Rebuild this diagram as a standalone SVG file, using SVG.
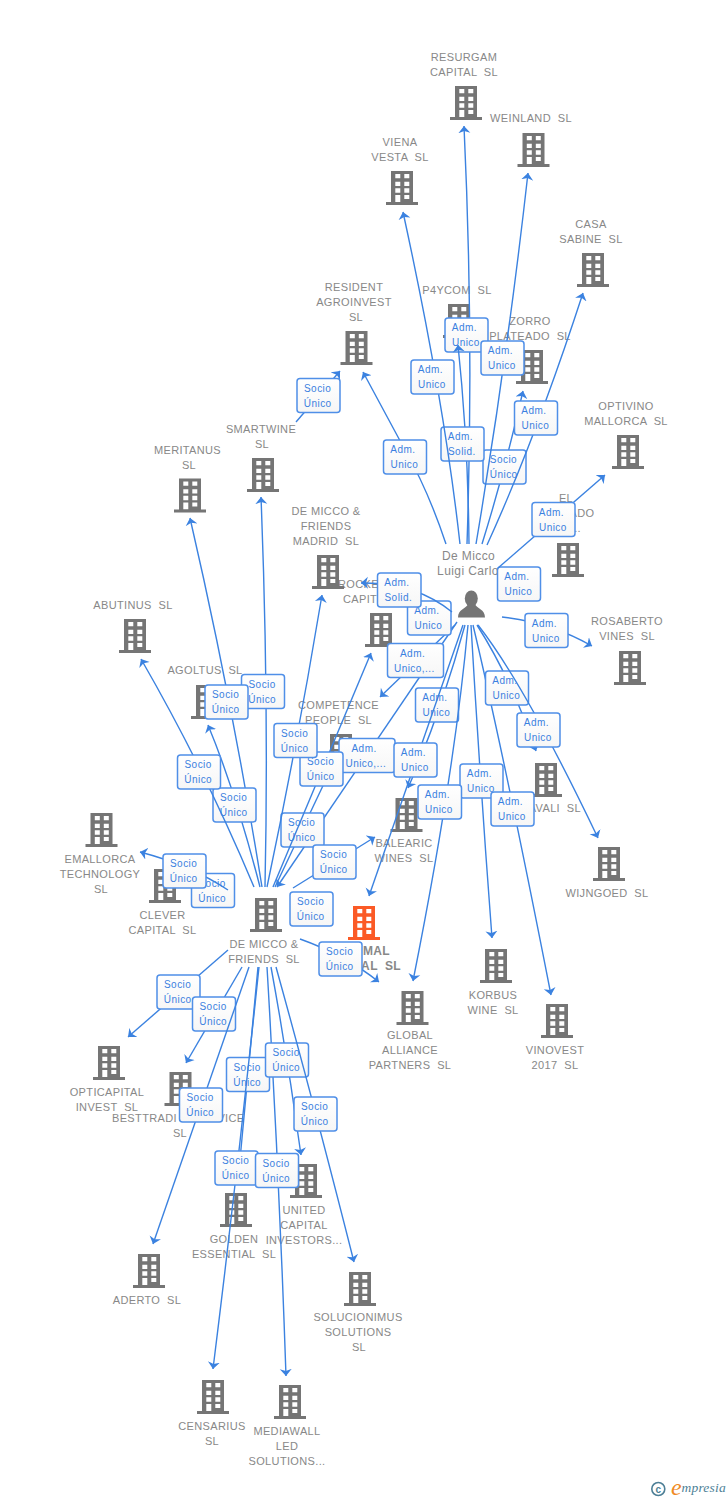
<svg xmlns="http://www.w3.org/2000/svg" width="728" height="1500" viewBox="0 0 728 1500" xml:space="preserve">
<style>
text{font-family:"Liberation Sans",Arial,sans-serif;white-space:pre}
.n{font-size:11px;fill:#888888;text-anchor:middle;letter-spacing:.35px}
.e{text-anchor:end}
.s{text-anchor:start}
.p{font-size:12px;letter-spacing:.4px}
.o{font-weight:bold;font-size:12px}
.bg{fill:#757575}
.or{fill:#fb5a26}
.ln{fill:none;stroke:#3b82e0;stroke-width:1.4;marker-end:url(#arr)}
.box{fill:url(#bf);stroke:#4f8fe8;stroke-width:1.5}
.t{font-size:10px;fill:#3b80e0;letter-spacing:.45px;transform:translate(-.5px,-.5px)}
</style>
<defs>
<linearGradient id="bf" x1="0" y1="0" x2="0" y2="1"><stop offset="0" stop-color="#ffffff"/><stop offset="1" stop-color="#f6f6f6"/></linearGradient>
<marker id="arr" markerUnits="userSpaceOnUse" markerWidth="9" markerHeight="13" refX="7" refY="6.5" orient="auto"><path d="M7,6.5 L0,0.5 L2,6.5 L0,12.5 Z" fill="#3b82e0"/></marker>
<g id="bld">
<path fill-rule="evenodd" d="M-11,0H11V32H-11Z M-6.7,3V7.3H-1.7V3Z M2.3,3V7.3H7.3V3Z M-6.7,10.7V15H-1.7V10.7Z M2.3,10.7V15H7.3V10.7Z M-6.7,17.3V21.7H-1.7V17.3Z M2.3,17.3V21.7H7.3V17.3Z M-6.7,24V31H-1.7V24Z M2.3,24V28H7.3V24Z"/>
<rect x="-16" y="31" width="32" height="3"/>
</g>
</defs>
<rect width="728" height="1500" fill="#ffffff"/>

<g id="nodes">
<g id="n-resurgam"><text class="n" x="464" y="61">RESURGAM</text><text class="n" x="464" y="76">CAPITAL  SL</text><use href="#bld" class="bg" x="466" y="86"/></g>
<g id="n-weinland"><text class="n" x="531" y="122">WEINLAND  SL</text><use href="#bld" class="bg" x="533.5" y="133"/></g>
<g id="n-viena"><text class="n" x="400" y="146">VIENA</text><text class="n" x="400" y="161">VESTA  SL</text><use href="#bld" class="bg" x="402" y="171"/></g>
<g id="n-casa"><text class="n" x="591" y="228">CASA</text><text class="n" x="591" y="243">SABINE  SL</text><use href="#bld" class="bg" x="593" y="253"/></g>
<g id="n-p4ycom"><text class="n" x="457" y="294">P4YCOM  SL</text><use href="#bld" class="bg" x="459" y="304"/></g>
<g id="n-zorro"><text class="n" x="530" y="325">ZORRO</text><text class="n" x="530" y="340">PLATEADO  SL</text><use href="#bld" class="bg" x="532" y="350"/></g>
<g id="n-optivino"><text class="n" x="626" y="410">OPTIVINO</text><text class="n" x="626" y="425">MALLORCA  SL</text><use href="#bld" class="bg" x="628" y="435"/></g>
<g id="n-el"><text class="n" x="566" y="502">EL</text><text class="n e" x="594.5" y="517">ADO</text><text class="n e" x="581" y="532">...</text><use href="#bld" class="bg" x="568" y="543"/></g>
<g id="n-rocke"><text class="n s" x="338" y="588">ROCKE</text><text class="n s" x="343" y="603">CAPIT</text><use href="#bld" class="bg" x="381" y="613"/></g>
<g id="n-resident"><text class="n" x="354" y="291">RESIDENT</text><text class="n" x="354" y="306">AGROINVEST</text><text class="n" x="356" y="321">SL</text><use href="#bld" class="bg" x="356.5" y="331"/></g>
<g id="n-smartwine"><text class="n" x="261" y="433">SMARTWINE</text><text class="n" x="262" y="448">SL</text><use href="#bld" class="bg" x="263" y="458"/></g>
<g id="n-meritanus"><text class="n" x="187.5" y="454">MERITANUS</text><text class="n" x="189" y="469">SL</text><use href="#bld" class="bg" x="190" y="478.5"/></g>
<g id="n-madrid"><text class="n" x="326" y="515">DE MICCO &amp;</text><text class="n" x="326" y="530">FRIENDS</text><text class="n" x="326" y="545">MADRID  SL</text><use href="#bld" class="bg" x="328" y="555"/></g>
<g id="n-abutinus"><text class="n" x="133" y="609">ABUTINUS  SL</text><use href="#bld" class="bg" x="135" y="619"/></g>
<g id="n-agoltus"><text class="n" x="205" y="674">AGOLTUS  SL</text><use href="#bld" class="bg" x="207" y="685"/></g>
<g id="n-person"><text class="n p" x="468.5" y="560">De Micco</text><text class="n p" x="468" y="575">Luigi Carlo</text><ellipse class="bg" cx="471.3" cy="598.5" rx="6.5" ry="8"/><path class="bg" d="M458,617.5 C458,609 466,609 468,604 H475 C477,609 485,609 485,617.5 Z"/></g>
<g id="n-competence"><text class="n" x="338.5" y="709">COMPETENCE</text><text class="n" x="338.5" y="724">PEOPLE  SL</text><use href="#bld" class="bg" x="341" y="734"/></g>
<g id="n-rosaberto"><text class="n" x="627" y="625">ROSABERTO</text><text class="n" x="627" y="640">VINES  SL</text><use href="#bld" class="bg" x="630" y="651"/></g>
<g id="n-vali"><text class="n e" x="581" y="812">AVALI  SL</text><use href="#bld" class="bg" x="546" y="763"/></g>
<g id="n-balearic"><text class="n" x="404" y="847">BALEARIC</text><text class="n" x="404" y="862">WINES  SL</text><use href="#bld" class="bg" x="406.5" y="798"/></g>
<g id="n-wijngoed"><text class="n" x="607" y="897">WIJNGOED  SL</text><use href="#bld" class="bg" x="609" y="847"/></g>
<g id="n-emallorca"><text class="n" x="100" y="863">EMALLORCA</text><text class="n" x="100" y="878">TECHNOLOGY</text><text class="n" x="101" y="893">SL</text><use href="#bld" class="bg" x="101.5" y="813"/></g>
<g id="n-clever"><text class="n" x="162.5" y="919">CLEVER</text><text class="n" x="162.5" y="934">CAPITAL  SL</text><use href="#bld" class="bg" x="165" y="869"/></g>
<g id="n-demicco"><text class="n" x="264" y="948">DE MICCO &amp;</text><text class="n" x="264" y="963">FRIENDS  SL</text><use href="#bld" class="bg" x="266" y="898"/></g>
<g id="n-main"><text class="n e o" x="390" y="955">MAL</text><text class="n e o" x="401" y="970">AL  SL</text><use href="#bld" class="or" x="364" y="906"/></g>
<g id="n-korbus"><text class="n" x="493" y="999">KORBUS</text><text class="n" x="493" y="1014">WINE  SL</text><use href="#bld" class="bg" x="496" y="949"/></g>
<g id="n-global"><text class="n" x="410" y="1039">GLOBAL</text><text class="n" x="410" y="1054">ALLIANCE</text><text class="n" x="410" y="1069">PARTNERS  SL</text><use href="#bld" class="bg" x="412.5" y="991"/></g>
<g id="n-vinovest"><text class="n" x="555" y="1054">VINOVEST</text><text class="n" x="555" y="1069">2017  SL</text><use href="#bld" class="bg" x="557" y="1004"/></g>
<g id="n-opticapital"><text class="n" x="107" y="1096">OPTICAPITAL</text><text class="n" x="107" y="1111">INVEST  SL</text><use href="#bld" class="bg" x="109" y="1046"/></g>
<g id="n-besttrading"><use href="#bld" class="bg" x="180.5" y="1072"/><text class="n s" x="112" y="1122">BESTTRADI</text><text class="n e" x="244.5" y="1122">VICE</text><text class="n" x="180" y="1137">SL</text></g>
<g id="n-united"><text class="n" x="304" y="1214">UNITED</text><text class="n" x="304" y="1229">CAPITAL</text><text class="n" x="304" y="1244">INVESTORS...</text><use href="#bld" class="bg" x="306" y="1164"/></g>
<g id="n-golden"><text class="n" x="234" y="1243">GOLDEN</text><text class="n" x="234" y="1258">ESSENTIAL  SL</text><use href="#bld" class="bg" x="236" y="1193"/></g>
<g id="n-aderto"><text class="n" x="147" y="1304">ADERTO  SL</text><use href="#bld" class="bg" x="149" y="1254"/></g>
<g id="n-solucionimus"><text class="n" x="358" y="1321">SOLUCIONIMUS</text><text class="n" x="358" y="1336">SOLUTIONS</text><text class="n" x="359" y="1351">SL</text><use href="#bld" class="bg" x="360" y="1272"/></g>
<g id="n-censarius"><text class="n" x="212" y="1430">CENSARIUS</text><text class="n" x="212" y="1445">SL</text><use href="#bld" class="bg" x="213" y="1380"/></g>
<g id="n-mediawall"><text class="n" x="287" y="1435">MEDIAWALL</text><text class="n" x="287" y="1450">LED</text><text class="n" x="287" y="1465">SOLUTIONS...</text><use href="#bld" class="bg" x="290" y="1385"/></g>
</g>

<g id="connectors">
<g><path class="ln" d="M467,544 Q474,340 464,126"/><g transform="translate(445,318)"><rect class="box" width="43" height="34" rx="3"/><text class="t" x="7.3" y="13.5">Adm.</text><text class="t" x="7.5" y="28.5">Unico</text></g></g>
<g><path class="ln" d="M482,544 Q505,470 523,391"/><g transform="translate(483,450)"><rect class="box" width="43" height="34" rx="3"/><text class="t" x="7.3" y="13.5">Socio</text><text class="t" x="7.3" y="28.5">Único</text></g></g>
<g><path class="ln" d="M476,544 Q507,360 528,173"/><g transform="translate(481,341)"><rect class="box" width="43" height="34" rx="3"/><text class="t" x="7.3" y="13.5">Adm.</text><text class="t" x="7.5" y="28.5">Unico</text></g></g>
<g><path class="ln" d="M469,544 Q468,440 458,345"/><g transform="translate(441,427)"><rect class="box" width="43" height="34" rx="3"/><text class="t" x="7.3" y="13.5">Adm.</text><text class="t" x="7.5" y="28.5">Solid.</text></g></g>
<g><path class="ln" d="M460,544 Q444,400 403,212"/><g transform="translate(411,360)"><rect class="box" width="43" height="34" rx="3"/><text class="t" x="7.3" y="13.5">Adm.</text><text class="t" x="7.5" y="28.5">Unico</text></g></g>
<g><path class="ln" d="M446,544 Q428,490 405,450 L363,372"/><g transform="translate(383.5,440)"><rect class="box" width="43" height="34" rx="3"/><text class="t" x="7.3" y="13.5">Adm.</text><text class="t" x="7.5" y="28.5">Unico</text></g></g>
<g><path class="ln" d="M487,545 Q535,440 583,293"/><g transform="translate(514.5,401)"><rect class="box" width="43" height="34" rx="3"/><text class="t" x="7.3" y="13.5">Adm.</text><text class="t" x="7.5" y="28.5">Unico</text></g></g>
<g><g transform="translate(497.5,567)"><rect class="box" width="43" height="34" rx="3"/><text class="t" x="7.3" y="13.5">Adm.</text><text class="t" x="7.5" y="28.5">Unico</text></g></g>
<g><path class="ln" d="M498,568 L605,475"/><g transform="translate(532,502.5)"><rect class="box" width="43" height="34" rx="3"/><text class="t" x="7.3" y="13.5">Adm.</text><text class="t" x="7.5" y="28.5">Unico</text></g></g>
<g><path class="ln" d="M502,617 Q550,622 592,646"/><g transform="translate(525,613.5)"><rect class="box" width="43" height="34" rx="3"/><text class="t" x="7.3" y="13.5">Adm.</text><text class="t" x="7.5" y="28.5">Unico</text></g></g>
<g><path class="ln" d="M457,622 L277,887"/><g transform="translate(339,738.5)"><rect class="box" width="56" height="34" rx="3"/><text class="t" x="13" y="13.5">Adm.</text><text class="t" x="7" y="28.5">Unico,...</text></g></g>
<g><path class="ln" d="M465,625 Q440,715 408,788"/><g transform="translate(415.5,688)"><rect class="box" width="43" height="34" rx="3"/><text class="t" x="7.3" y="13.5">Adm.</text><text class="t" x="7.5" y="28.5">Unico</text></g></g>
<g><path class="ln" d="M463,625 L369,896"/><g transform="translate(394,743)"><rect class="box" width="43" height="34" rx="3"/><text class="t" x="7.3" y="13.5">Adm.</text><text class="t" x="7.5" y="28.5">Unico</text></g></g>
<g><path class="ln" d="M471,625 Q480,780 492,938"/><g transform="translate(460,764)"><rect class="box" width="43" height="34" rx="3"/><text class="t" x="7.3" y="13.5">Adm.</text><text class="t" x="7.5" y="28.5">Unico</text></g></g>
<g><path class="ln" d="M468,625 Q455,770 413,981"/><g transform="translate(418,785)"><rect class="box" width="43.5" height="34" rx="3"/><text class="t" x="7.3" y="13.5">Adm.</text><text class="t" x="7.5" y="28.5">Unico</text></g></g>
<g><path class="ln" d="M473,625 Q505,760 551,995"/><g transform="translate(491,792)"><rect class="box" width="43" height="34" rx="3"/><text class="t" x="7.3" y="13.5">Adm.</text><text class="t" x="7.5" y="28.5">Unico</text></g></g>
<g><path class="ln" d="M477,625 Q512,680 536,751"/><g transform="translate(485.5,671)"><rect class="box" width="43" height="34" rx="3"/><text class="t" x="7.3" y="13.5">Adm.</text><text class="t" x="7.5" y="28.5">Unico</text></g></g>
<g><path class="ln" d="M478,625 Q525,685 598,838"/><g transform="translate(517,713)"><rect class="box" width="43" height="34" rx="3"/><text class="t" x="7.3" y="13.5">Adm.</text><text class="t" x="7.5" y="28.5">Unico</text></g></g>
<g><path class="ln" d="M455,625 L380,697"/><g transform="translate(387.5,643.5)"><rect class="box" width="56" height="34" rx="3"/><text class="t" x="13" y="13.5">Adm.</text><text class="t" x="7" y="28.5">Unico,...</text></g></g>
<g><g transform="translate(407.5,601)"><rect class="box" width="43.5" height="34" rx="3"/><text class="t" x="7.3" y="13.5">Adm.</text><text class="t" x="7.5" y="28.5">Unico</text></g></g>
<g><path class="ln" d="M452,612 Q415,582 361,583"/><g transform="translate(377.5,573)"><rect class="box" width="43.5" height="34" rx="3"/><text class="t" x="7.3" y="13.5">Adm.</text><text class="t" x="7.5" y="28.5">Solid.</text></g></g>

<g><path class="ln" d="M296,422 L340,371"/><g transform="translate(297,378.5)"><rect class="box" width="43" height="34" rx="3"/><text class="t" x="7.5" y="13.5">Socio</text><text class="t" x="7.3" y="28.5">Único</text></g></g>
<g><path class="ln" d="M265,887 Q269,700 261,497"/><g transform="translate(241.5,674.5)"><rect class="box" width="43" height="34" rx="3"/><text class="t" x="7.5" y="13.5">Socio</text><text class="t" x="7.3" y="28.5">Único</text></g></g>
<g><path class="ln" d="M262,887 Q232,700 190,518"/><g transform="translate(205,685)"><rect class="box" width="43" height="34" rx="3"/><text class="t" x="7.5" y="13.5">Socio</text><text class="t" x="7.3" y="28.5">Único</text></g></g>
<g><path class="ln" d="M260,887 Q235,790 208,725"/><g transform="translate(213,788)"><rect class="box" width="43" height="34" rx="3"/><text class="t" x="7.5" y="13.5">Socio</text><text class="t" x="7.3" y="28.5">Único</text></g></g>
<g><path class="ln" d="M254,887 Q205,770 141,659"/><g transform="translate(177.5,755)"><rect class="box" width="43" height="34" rx="3"/><text class="t" x="7.5" y="13.5">Socio</text><text class="t" x="7.3" y="28.5">Único</text></g></g>
<g><path class="ln" d="M275,887 L329,773"/><g transform="translate(281,813)"><rect class="box" width="43" height="34" rx="3"/><text class="t" x="7.5" y="13.5">Socio</text><text class="t" x="7.3" y="28.5">Único</text></g></g>
<g><path class="ln" d="M273,887 L371,653"/><g transform="translate(300,752)"><rect class="box" width="43" height="34" rx="3"/><text class="t" x="7.5" y="13.5">Socio</text><text class="t" x="7.3" y="28.5">Único</text></g></g>
<g><path class="ln" d="M267,887 Q298,740 322,595"/><g transform="translate(274,723.5)"><rect class="box" width="43" height="34" rx="3"/><text class="t" x="7.5" y="13.5">Socio</text><text class="t" x="7.3" y="28.5">Único</text></g></g>
<g><path class="ln" d="M293,888 L375,837"/><g transform="translate(313,845)"><rect class="box" width="43" height="34" rx="3"/><text class="t" x="7.5" y="13.5">Socio</text><text class="t" x="7.3" y="28.5">Único</text></g></g>
<g><g transform="translate(191.5,873.5)"><rect class="box" width="43" height="34" rx="3"/><text class="t" x="7.5" y="13.5">Socio</text><text class="t" x="7.3" y="28.5">Único</text></g></g>
<g><path class="ln" d="M228,890 Q190,865 140,852"/><g transform="translate(163,854)"><rect class="box" width="43" height="34" rx="3"/><text class="t" x="7.5" y="13.5">Socio</text><text class="t" x="7.3" y="28.5">Único</text></g></g>
<g><g transform="translate(290,892)"><rect class="box" width="43" height="34" rx="3"/><text class="t" x="7.5" y="13.5">Socio</text><text class="t" x="7.3" y="28.5">Único</text></g></g>
<g><path class="ln" d="M300,939 Q345,955 379,982"/><g transform="translate(319,942)"><rect class="box" width="43" height="34" rx="3"/><text class="t" x="7.5" y="13.5">Socio</text><text class="t" x="7.3" y="28.5">Único</text></g></g>
<g><path class="ln" d="M228,950 L128,1037"/><g transform="translate(157,975)"><rect class="box" width="43" height="34" rx="3"/><text class="t" x="7.5" y="13.5">Socio</text><text class="t" x="7.3" y="28.5">Único</text></g></g>
<g><path class="ln" d="M242,967 L186,1063"/><g transform="translate(192.5,997)"><rect class="box" width="43" height="34" rx="3"/><text class="t" x="7.5" y="13.5">Socio</text><text class="t" x="7.3" y="28.5">Único</text></g></g>
<g><path class="ln" d="M249,967 L153,1244"/><g transform="translate(179.5,1088)"><rect class="box" width="43" height="34" rx="3"/><text class="t" x="7.5" y="13.5">Socio</text><text class="t" x="7.3" y="28.5">Único</text></g></g>
<g><path class="ln" d="M258,967 L238,1181"/><g transform="translate(226.5,1057.5)"><rect class="box" width="43" height="34" rx="3"/><text class="t" x="7.5" y="13.5">Socio</text><text class="t" x="7.3" y="28.5">Único</text></g></g>
<g><path class="ln" d="M259,967 Q238,1168 213,1369"/><g transform="translate(215,1151)"><rect class="box" width="43" height="34" rx="3"/><text class="t" x="7.5" y="13.5">Socio</text><text class="t" x="7.3" y="28.5">Único</text></g></g>
<g><path class="ln" d="M267,967 Q279,1170 286,1376"/><g transform="translate(255.5,1153.5)"><rect class="box" width="43" height="34" rx="3"/><text class="t" x="7.5" y="13.5">Socio</text><text class="t" x="7.3" y="28.5">Único</text></g></g>
<g><path class="ln" d="M271,967 Q288,1060 301,1155"/><g transform="translate(265.5,1043)"><rect class="box" width="43" height="34" rx="3"/><text class="t" x="7.5" y="13.5">Socio</text><text class="t" x="7.3" y="28.5">Único</text></g></g>
<g><path class="ln" d="M276,967 Q313,1100 354,1262"/><g transform="translate(294,1097)"><rect class="box" width="43" height="34" rx="3"/><text class="t" x="7.5" y="13.5">Socio</text><text class="t" x="7.3" y="28.5">Único</text></g></g>
</g>

<g id="logo">
<circle cx="658.3" cy="1489" r="6.5" fill="none" stroke="#4d7f96" stroke-width="1.6"/>
<text x="658.3" y="1492.5" text-anchor="middle" style="font-size:10px;fill:#4d7f96;font-weight:bold">c</text>
<text x="671" y="1495" style="font-family:'Liberation Serif',serif;font-style:italic;font-size:24px;fill:#f08a24">e</text>
<text x="681.5" y="1492" style="font-family:'Liberation Serif',serif;font-style:italic;font-size:13.5px;fill:#4d7f96;letter-spacing:.2px">mpresia</text>
</g>
</svg>
